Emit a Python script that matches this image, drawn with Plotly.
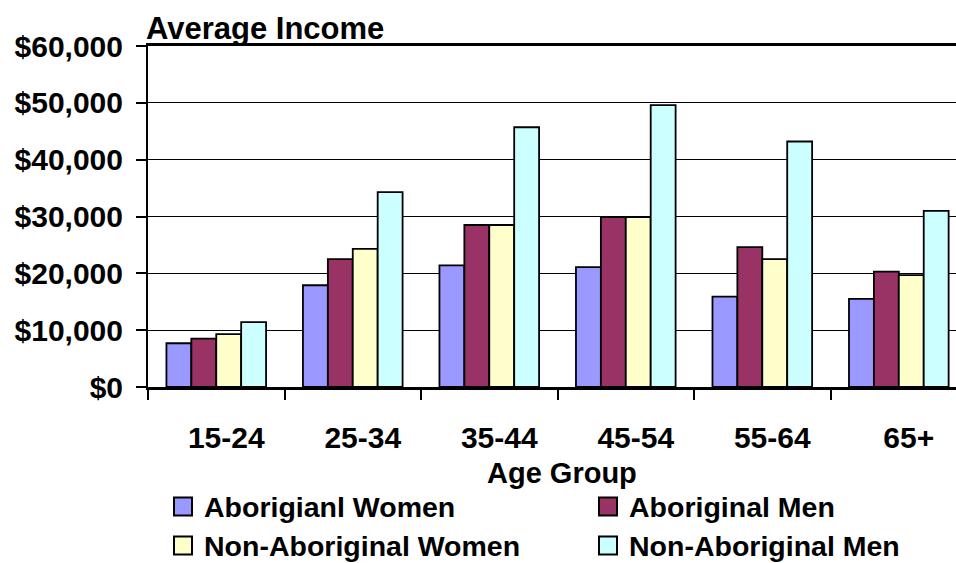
import plotly.graph_objects as go

age_groups = ["15-24", "25-34", "35-44", "45-54", "55-64", "65+"]
series_names = ["Aborigianl Women", "Aboriginal Men", "Non-Aboriginal Women", "Non-Aboriginal Men"]
aboriginal_women = [7700, 17900, 21400, 21100, 15900, 15500]
aboriginal_men = [8500, 22500, 28500, 29900, 24600, 20300]
non_aboriginal_women = [9300, 24300, 28500, 29900, 22500, 19700]
non_aboriginal_men = [11400, 34300, 45700, 49600, 43200, 31000]
series_values = [aboriginal_women, aboriginal_men, non_aboriginal_women, non_aboriginal_men]
colors = ["#9999FF", "#993366", "#FFFFCC", "#CCFFFF"]

FONT = "Liberation Sans, Arial, sans-serif"
FS = 30
LEG_FS = 28.5
W, H = 956, 563
L, R, T, B = 148, 0, 46, 176
PW, PH = W - L - R, H - T - B


def px_x(px):
    return (px - L) / PW


def px_y(py):
    return (H - B - py) / PH


fig = go.Figure()
for name, vals, col in zip(series_names, series_values, colors):
    fig.add_trace(go.Bar(
        x=age_groups, y=vals, name=name, showlegend=False,
        marker=dict(color=col, line=dict(color="black", width=1.8)),
    ))

fig.update_layout(
    width=W, height=H,
    margin=dict(l=L, r=R, t=T, b=B, pad=0, autoexpand=False),
    paper_bgcolor="white", plot_bgcolor="white",
    barmode="group", bargap=0.27, bargroupgap=0,
    font=dict(family=FONT, size=FS, color="black", weight="bold"),
    title=dict(text="Average Income", x=146 / W, xanchor="left", xref="container",
               y=1 - 28 / H, yanchor="middle", yref="container",
               font=dict(family=FONT, size=FS + 1, color="black", weight="bold")),
    showlegend=False,
)

# the last category runs a little past the right edge of the page
fig.update_xaxes(
    range=[-0.5, 5.419], type="category",
    showline=True, linecolor="black", linewidth=2.5, mirror=True,
    ticks="outside", tickson="boundaries", ticklen=10, tickwidth=2, tickcolor="black",
    ticklabelstandoff=22, ticklabelshift=10, showgrid=False, zeroline=False,
    tickfont=dict(family=FONT, size=FS, color="black", weight="bold"),
)
fig.update_yaxes(
    range=[0, 60000], dtick=10000, tickformat="$,.0f",
    showline=True, linecolor="black", linewidth=2,
    ticks="outside", ticklen=10, tickwidth=2, tickcolor="black",
    ticklabelstandoff=7,
    showgrid=True, gridcolor="black", gridwidth=1.2, zeroline=False,
    tickfont=dict(family=FONT, size=FS, color="black", weight="bold"),
)

fig.add_annotation(text="Age Group", xref="paper", yref="paper",
                   x=px_x(562), y=px_y(473),
                   xanchor="center", yanchor="middle", showarrow=False,
                   font=dict(family=FONT, size=FS - 1, color="black", weight="bold"))

# two-column legend below the axis title
legend_cols = [183, 608]
legend_rows = [506.5, 545.5]
half = 9
for i, (name, col) in enumerate(zip(series_names, colors)):
    cx = legend_cols[i % 2]
    cy = legend_rows[i // 2]
    fig.add_shape(type="rect", xref="paper", yref="paper",
                  x0=px_x(cx - half), x1=px_x(cx + half),
                  y0=px_y(cy + half), y1=px_y(cy - half),
                  fillcolor=col, line=dict(color="black", width=2))
    fig.add_annotation(text=name, xref="paper", yref="paper",
                       x=px_x(cx + 19), y=px_y(cy),
                       xanchor="left", yanchor="middle", showarrow=False,
                       font=dict(family=FONT, size=LEG_FS, color="black", weight="bold"))

fig.write_html("out.html")
